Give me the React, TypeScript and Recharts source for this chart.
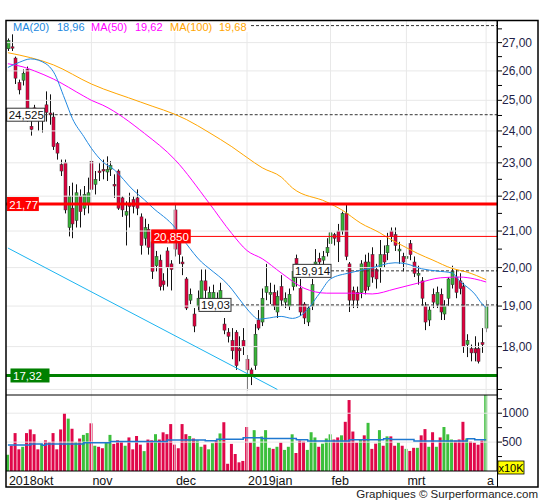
import React from "react";
import {
  Bar,
  Cell,
  ComposedChart,
  Line,
  ReferenceLine,
  XAxis,
  YAxis,
} from "recharts";

// open, high, low, close per trading day (2 okt 2018 .. 1 apr 2019)
const ohlc: [number, number, number, number][] = [
  [26.78, 27.15, 26.7, 27.08], [26.85, 27.3, 26.7, 26.8], [26.45, 26.5, 25.55, 25.75], [25.6, 25.7, 25.2, 25.35],
  [25.68, 26.05, 25.5, 25.92], [26.05, 26.15, 24.3, 24.45], [24.15, 24.4, 23.85, 24.05], [24.75, 24.85, 24.35, 24.45],
  [24.45, 24.7, 24.0, 24.4], [24.42, 24.6, 23.95, 24.5], [24.85, 25.3, 24.3, 24.6], [24.58, 25.2, 24.2, 24.52],
  [24.45, 24.6, 23.4, 23.5], [23.6, 23.65, 23.1, 23.3], [22.95, 23.1, 22.6, 22.75], [23.0, 23.1, 21.5, 21.6],
  [21.1, 22.3, 20.85, 22.0], [21.65, 22.4, 20.8, 21.2], [21.3, 22.35, 21.1, 22.1], [22.0, 22.2, 21.1, 21.55],
  [21.65, 22.3, 21.45, 22.05], [21.75, 22.55, 21.5, 22.1], [23.05, 23.45, 22.1, 22.2], [22.35, 22.75, 22.05, 22.5],
  [22.75, 23.0, 22.45, 22.7], [22.8, 23.1, 22.5, 22.75], [22.72, 23.2, 22.45, 22.8], [22.8, 23.05, 22.6, 22.92],
  [22.35, 22.65, 21.95, 22.3], [22.75, 22.8, 21.6, 21.65], [21.95, 22.0, 21.4, 21.6], [21.45, 21.85, 20.6, 21.55],
  [21.8, 22.1, 21.1, 21.7], [21.9, 22.0, 21.5, 21.7], [21.95, 22.2, 21.45, 21.65], [21.4, 21.5, 20.35, 20.6],
  [20.8, 21.35, 20.6, 21.1], [21.05, 21.2, 20.35, 20.55], [20.7, 20.8, 19.7, 19.9], [20.05, 20.45, 19.9, 20.3],
  [20.2, 20.35, 19.4, 19.5], [19.65, 19.85, 19.4, 19.55], [20.45, 20.55, 19.5, 20.0], [20.1, 20.2, 19.4, 19.95],
  [21.6, 21.77, 20.3, 20.5], [20.85, 20.9, 20.1, 20.35], [20.15, 20.3, 19.8, 20.1], [19.7, 19.75, 18.9, 18.95],
  [19.15, 19.45, 19.05, 19.3], [18.8, 18.95, 18.35, 18.5], [19.0, 19.4, 18.9, 19.2], [19.15, 19.95, 18.95, 19.65],
  [19.65, 19.95, 19.1, 19.4], [19.2, 19.5, 18.95, 19.35], [19.2, 19.55, 19.0, 19.35], [19.15, 19.35, 18.9, 19.05],
  [19.15, 19.6, 18.85, 19.4], [18.55, 18.7, 18.3, 18.4], [18.35, 18.45, 18.1, 18.25], [18.15, 18.45, 17.7, 17.9],
  [18.35, 18.4, 17.45, 17.55], [17.95, 18.25, 17.65, 17.9], [18.15, 18.45, 17.8, 18.0], [17.7, 17.8, 16.98, 17.45],
  [17.45, 17.5, 17.1, 17.3], [17.55, 18.55, 17.45, 18.3], [18.65, 18.9, 18.4, 18.45], [18.6, 19.45, 18.5, 19.2],
  [19.35, 20.1, 19.15, 19.5], [19.3, 19.6, 19.05, 19.35], [19.35, 19.55, 18.9, 19.0], [18.85, 19.4, 18.7, 19.25],
  [19.5, 19.8, 19.0, 19.15], [19.1, 19.35, 18.95, 19.2], [19.0, 19.45, 18.9, 19.3], [19.5, 20.0, 19.4, 19.9],
  [20.25, 20.35, 19.5, 20.1], [19.45, 19.7, 18.75, 18.85], [19.05, 19.1, 18.55, 18.7], [18.6, 19.0, 18.5, 18.95],
  [19.0, 19.7, 18.9, 19.55], [20.1, 20.5, 19.95, 20.15], [20.25, 20.4, 19.95, 20.15], [20.2, 20.45, 20.0, 20.3],
  [20.4, 20.8, 20.3, 20.55], [20.65, 21.1, 20.2, 20.95], [20.9, 20.95, 20.6, 20.8], [21.0, 21.2, 20.15, 20.7],
  [21.0, 21.55, 20.9, 21.5], [21.5, 21.77, 20.2, 20.3], [20.1, 20.15, 18.85, 19.15], [19.4, 19.5, 18.95, 19.15],
  [19.35, 19.5, 18.95, 19.15], [19.35, 20.2, 19.2, 20.1], [20.15, 20.35, 19.3, 19.4], [19.5, 20.4, 19.4, 20.15],
  [20.35, 20.55, 19.6, 19.75], [19.95, 20.1, 19.45, 19.7], [20.0, 20.75, 19.6, 20.35], [20.35, 20.6, 20.0, 20.15],
  [20.4, 20.95, 20.2, 20.6], [21.0, 21.1, 20.7, 20.85], [20.9, 21.1, 20.45, 20.6], [20.45, 20.7, 20.1, 20.5],
  [20.3, 20.4, 19.9, 20.15], [20.25, 20.65, 20.0, 20.3], [20.65, 20.75, 20.2, 20.35], [20.15, 20.3, 19.75, 19.85],
  [19.8, 20.05, 19.55, 19.85], [19.65, 19.75, 19.0, 19.2], [19.0, 19.1, 18.4, 18.6], [18.65, 19.0, 18.5, 18.9],
  [19.3, 19.45, 18.95, 19.1], [19.05, 19.5, 18.95, 19.35], [19.3, 19.45, 18.65, 18.85], [18.8, 19.15, 18.65, 19.0],
  [19.2, 19.75, 19.0, 19.7], [19.55, 20.05, 19.45, 19.9], [19.75, 19.95, 19.2, 19.35], [19.65, 19.85, 19.3, 19.45],
  [19.5, 19.6, 17.85, 18.0], [18.05, 18.3, 17.75, 18.15], [17.95, 18.05, 17.65, 17.85], [17.95, 18.25, 17.65, 17.85],
  [17.95, 18.1, 17.6, 17.65], [18.1, 18.45, 17.85, 18.05], [18.45, 19.15, 18.35, 19.0],
];

// volume in units of 10K
const volume = [
  281, 437, 656, 375, 419, 656, 719, 637, 375, 469,
  531, 500, 656, 375, 719, 1000, 906, 731, 500, 562,
  625, 656, 825, 437, 419, 394, 500, 625, 469, 531,
  500, 437, 581, 375, 606, 456, 344, 544, 531, 637,
  544, 669, 637, 812, 456, 394, 812, 637, 606, 562,
  531, 419, 456, 375, 481, 531, 650, 844, 125, 469,
  294, 150, 174, 761, 491, 707, 419, 599, 707, 401,
  383, 419, 491, 365, 419, 635, 311, 527, 509, 365,
  671, 581, 419, 473, 563, 635, 545, 581, 617, 851,
  1228, 683, 491, 545, 617, 833, 383, 473, 707, 437,
  599, 599, 437, 491, 437, 383, 347, 401, 401, 617,
  725, 419, 671, 419, 581, 761, 635, 545, 527, 545,
  851, 563, 509, 491, 455, 527, 1350,
];

// moving averages: [day index, value]
const ma20Pts: [number, number][] = [
  [0, 26.12], [3, 26.3], [6, 26.42], [10, 26.25], [12, 25.97], [15, 25.04], [17, 24.4], [20, 23.82],
  [22, 23.45], [25, 23.03], [28, 22.79], [33, 22.18], [36, 21.89], [38, 21.68], [44, 21.1], [47, 20.65],
  [51, 20.15], [53, 19.98], [58, 19.55], [62, 19.05], [64, 18.82], [66, 18.67], [68, 18.69], [72, 18.74],
  [75, 18.69], [78, 18.82], [82, 19.31], [85, 19.7], [90, 19.86], [95, 19.97], [102, 20.13], [105, 20.1],
  [109, 19.97], [113, 19.91], [117, 19.86], [119, 19.65], [123, 19.31], [125, 19.05], [126, 18.96],
];
const ma50Pts: [number, number][] = [
  [0, 26.25], [4, 26.14], [7, 26.0], [12, 25.72], [20, 25.14], [22, 25.0], [25, 24.84], [36, 23.92],
  [44, 23.1], [53, 21.8], [59, 20.93], [63, 20.46], [67, 20.24], [72, 19.86], [78, 19.46], [84, 19.33],
  [91, 19.33], [96, 19.31], [102, 19.44], [108, 19.59], [114, 19.73], [119, 19.75], [123, 19.7], [126, 19.62],
];
const ma100Pts: [number, number][] = [
  [0, 26.64], [12, 26.21], [22, 25.55], [35, 24.94], [47, 24.37], [53, 23.95], [59, 23.5], [65, 23.0],
  [67, 22.85], [72, 22.57], [75, 22.24], [84, 21.83], [88, 21.6], [93, 21.22], [98, 20.95], [100, 20.82],
  [105, 20.54], [108, 20.38], [112, 20.2], [117, 19.98], [121, 19.88], [126, 19.68],
];
const volAvgPts: [number, number][] = [
  [0, 450], [6, 469], [9, 445], [10, 469], [20, 487], [27, 512], [42, 537], [52, 525], [55, 550],
  [62, 575], [67, 563], [76, 540], [79, 521], [90, 540], [99, 560], [101, 545], [107, 521], [121, 557],
  [123, 540], [126, 540],
];

const monthIdx = [0, 22, 44, 63, 85, 105, 126];
const monthLabels = ["2018okt", "nov", "dec", "2019jan", "feb", "mrt", "a"];
const priceTicks = [17, 17.5, 18, 18.5, 19, 19.5, 20, 20.5, 21, 21.5, 22, 22.5, 23, 23.5, 24, 24.5, 25, 25.5, 26, 26.5, 27, 27.5];
const priceLabels = [18, 19, 20, 21, 22, 23, 24, 25, 26, 27];
const priceGrid = [17, 18, 19, 20, 21, 22, 23, 24, 25, 26, 27];
const volTicks = [250, 500, 750, 1000, 1250];
const volGrid = [500, 1000];

const lastMa = { ma20: 18.96, ma50: 19.62, ma100: 19.68 };
const resistance = 21.77;
const resistance2 = 20.85;
const support = 17.32;
const dashTop = 27.62;
const dash1 = 24.525;
const dash2 = 19.914;
const dash3 = 19.03;
const trendStart = { x: 0, y: 20.53 };
const trendEnd = { x: 71, y: 17.0 };

const RED = "#e0003f";
const GREEN = "#38b438";
const C20 = "#2188e0";
const C50 = "#ff00ff";
const C100 = "#ffa500";
const FONT = "'Liberation Sans', Arial, sans-serif";

const fmt = (v: number, d: number) => v.toFixed(d).replace(".", ",");

const m20 = new Map(ma20Pts);
const m50 = new Map(ma50Pts);
const m100 = new Map(ma100Pts);
const mva = new Map(volAvgPts);

const data = ohlc.map(([o, h, l, c], i) => ({
  i,
  o,
  h,
  l,
  c,
  range: [l, h],
  up: c >= o,
  v: volume[i],
  ma20: m20.get(i) ?? null,
  ma50: m50.get(i) ?? null,
  ma100: m100.get(i) ?? null,
  vavg: mva.get(i) ?? null,
}));

function Candle(props: any) {
  const { x, y, width, height, payload } = props;
  if (!payload || height == null) return null;
  const top = Math.min(y, y + height);
  const hgt = Math.abs(height);
  const { o, h, l, c } = payload;
  const lh = Math.log(h);
  const span = lh - Math.log(l) || 1;
  const py = (v: number) => top + (hgt * (lh - Math.log(v))) / span;
  const cx = Math.round(x + width / 2) + 0.5;
  const bTop = py(Math.max(o, c));
  const bBot = py(Math.min(o, c));
  return (
    <g>
      <line x1={cx} x2={cx} y1={top} y2={top + hgt} stroke="#111" strokeWidth={1} />
      <rect
        x={cx - 1.5}
        y={bTop}
        width={3}
        height={Math.max(bBot - bTop, 1)}
        fill={c >= o ? GREEN : RED}
        stroke="#333"
        strokeWidth={0.5}
      />
    </g>
  );
}

type Box = { x: number; w: number; bg: string; fg: string; border?: string; text: string };

function level(box: Box | null, stroke: string, sw: number, dash?: string, fromBox = false) {
  return (p: any) => {
    const y = p.y1;
    const left = Math.min(p.x1, p.x2);
    const right = Math.max(p.x1, p.x2);
    const x0 = box && fromBox ? box.x + box.w : left;
    return (
      <g>
        <line x1={x0} x2={right} y1={y} y2={y} stroke={stroke} strokeWidth={sw} strokeDasharray={dash} />
        {box && (
          <g>
            <rect x={box.x} y={y - 6.5} width={box.w} height={13} fill={box.bg} stroke={box.border ?? box.bg} strokeWidth={1} />
            <text x={box.x + 2} y={y + 4.5} fontSize={11.5} fill={box.fg} fontFamily={FONT}>
              {box.text}
            </text>
          </g>
        )}
      </g>
    );
  };
}

function PriceTick(props: any) {
  const { x, y, payload } = props;
  if (!priceLabels.includes(payload.value)) return null;
  return (
    <text x={x} y={y + 4} fontSize={12} fill="#1f1f48" fontFamily={FONT} textAnchor="start">
      {fmt(payload.value, 2)}
    </text>
  );
}

function VolTick(props: any) {
  const { x, y, payload } = props;
  if (!volGrid.includes(payload.value)) return null;
  return (
    <text x={x} y={y + 4} fontSize={12} fill="#1f1f48" fontFamily={FONT} textAnchor="start">
      {payload.value}
    </text>
  );
}

function MonthTick(props: any) {
  const { x, y, payload } = props;
  const k = monthIdx.indexOf(payload.value);
  return (
    <text x={x + 1} y={y + 12} fontSize={12.5} fill="#111" fontFamily={FONT} textAnchor="start">
      {monthLabels[k]}
    </text>
  );
}

const noMargin = { top: 0, right: 0, bottom: 0, left: 0 };
const xPad = { left: 0, right: 9 };

export default function App() {
  return (
    <div style={{ position: "relative", width: 545, height: 500, background: "#fff", overflow: "hidden" }}>
      <style>{`body{margin:0}`}</style>

      <div style={{ position: "absolute", left: 6, top: 21 }}>
        <ComposedChart width={532} height={374} data={data} margin={noMargin}>
          <XAxis dataKey="i" type="category" hide padding={xPad} />
          <YAxis
            orientation="right"
            scale="log"
            domain={[16.875, 27.79]}
            allowDataOverflow
            ticks={priceTicks}
            interval={0}
            width={41}
            tickSize={5}
            tickMargin={0}
            tickLine={{ stroke: "#000" }}
            axisLine={{ stroke: "#000" }}
            tick={<PriceTick />}
          />
          {priceGrid.map((v) => (
            <ReferenceLine key={"g" + v} y={v} stroke="#e8e8e8" strokeWidth={1} />
          ))}
          {monthIdx.slice(1).map((m) => (
            <ReferenceLine key={"m" + m} x={m} stroke="#e8e8e8" strokeWidth={1} />
          ))}
          <ReferenceLine segment={[trendStart, trendEnd]} stroke="#1cb4f0" strokeWidth={1} />
          <ReferenceLine y={dashTop} shape={level(null, "#333", 1, "3 2")} />
          <ReferenceLine
            y={dash1}
            shape={level({ x: 0.7, w: 38, bg: "#fff", fg: "#111", border: "#333", text: fmt(dash1, 3) }, "#333", 1, "3 2", true)}
          />
          <ReferenceLine
            y={dash2}
            shape={level({ x: 287, w: 38, bg: "#fff", fg: "#111", border: "#333", text: fmt(dash2, 3) }, "#333", 1, "3 2", true)}
          />
          <ReferenceLine
            y={dash3}
            shape={level({ x: 193, w: 32, bg: "#fff", fg: "#111", border: "#333", text: fmt(dash3, 2) }, "#333", 1, "3 2", true)}
          />
          <Line dataKey="ma100" type="monotone" stroke={C100} strokeWidth={1} dot={false} connectNulls isAnimationActive={false} />
          <Line dataKey="ma50" type="monotone" stroke={C50} strokeWidth={1} dot={false} connectNulls isAnimationActive={false} />
          <Line dataKey="ma20" type="monotone" stroke={C20} strokeWidth={1} dot={false} connectNulls isAnimationActive={false} />
          <Bar dataKey="range" shape={<Candle />} isAnimationActive={false} />
          <ReferenceLine
            y={resistance}
            shape={level({ x: 1.3, w: 31, bg: "#ff0000", fg: "#fff", text: fmt(resistance, 2) }, "#ff0000", 3)}
          />
          <ReferenceLine
            y={resistance2}
            shape={level({ x: 145.7, w: 38.5, bg: "#ff0000", fg: "#fff", text: fmt(resistance2, 3) }, "#ff0000", 1, undefined, true)}
          />
          <ReferenceLine
            y={support}
            shape={level({ x: 5, w: 38, bg: "#008000", fg: "#fff", text: fmt(support, 2) }, "#008000", 3)}
          />
        </ComposedChart>
      </div>

      <div style={{ position: "absolute", left: 6, top: 395 }}>
        <ComposedChart width={532} height={92} data={data} margin={noMargin}>
          <XAxis
            dataKey="i"
            type="category"
            padding={xPad}
            ticks={monthIdx}
            interval={0}
            height={16}
            tickSize={0}
            tickLine={false}
            axisLine={{ stroke: "#000" }}
            tick={<MonthTick />}
          />
          <YAxis
            orientation="right"
            domain={[0, 1315]}
            allowDataOverflow
            ticks={volTicks}
            interval={0}
            width={41}
            tickSize={5}
            tickMargin={0}
            tickLine={{ stroke: "#000" }}
            axisLine={{ stroke: "#000" }}
            tick={<VolTick />}
          />
          {volGrid.map((v) => (
            <ReferenceLine key={"vg" + v} y={v} stroke="#e8e8e8" strokeWidth={1} />
          ))}
          {monthIdx.slice(1).map((m) => (
            <ReferenceLine key={"vm" + m} x={m} stroke="#e8e8e8" strokeWidth={1} />
          ))}
          <Bar dataKey="v" barSize={3} isAnimationActive={false}>
            {data.map((d) => (
              <Cell key={d.i} fill={d.up ? "#3cbf3c" : "#e0084a"} />
            ))}
          </Bar>
          <Line dataKey="vavg" type="stepAfter" stroke="#1f78d0" strokeWidth={1.5} dot={false} connectNulls isAnimationActive={false} />
        </ComposedChart>
      </div>

      <svg width={545} height={500} style={{ position: "absolute", left: 0, top: 0, pointerEvents: "none" }}>
        <rect x={6} y={21} width={244} height={11} fill="#fff" />
        <g fontFamily={FONT} fontSize={11}>
          <text x={13} y={31} fill={C20}>MA(20)</text>
          <text x={57} y={31} fill={C20}>{fmt(lastMa.ma20, 2)}</text>
          <text x={91} y={31} fill={C50}>MA(50)</text>
          <text x={135} y={31} fill={C50}>{fmt(lastMa.ma50, 2)}</text>
          <text x={170} y={31} fill={C100}>MA(100)</text>
          <text x={219} y={31} fill={C100}>{fmt(lastMa.ma100, 2)}</text>
        </g>
        <rect x={6} y={20.5} width={532} height={466.5} fill="none" stroke="#000" strokeWidth={1.5} />
        <line x1={6} x2={497.5} y1={395} y2={395} stroke="#000" strokeWidth={1} />
        <line x1={497.5} x2={497.5} y1={20} y2={487} stroke="#000" strokeWidth={1} />
        <rect x={498} y={461} width={26} height={13} fill="#ffff00" stroke="#000" strokeWidth={0.8} />
        <text x={511} y={471.5} textAnchor="middle" fontFamily={FONT} fontSize={11} fill="#000">x10K</text>
        <text x={538} y={498} textAnchor="end" fontFamily={FONT} fontSize={11.5} fill="#222">
          Graphiques © Surperformance.com
        </text>
      </svg>
    </div>
  );
}
